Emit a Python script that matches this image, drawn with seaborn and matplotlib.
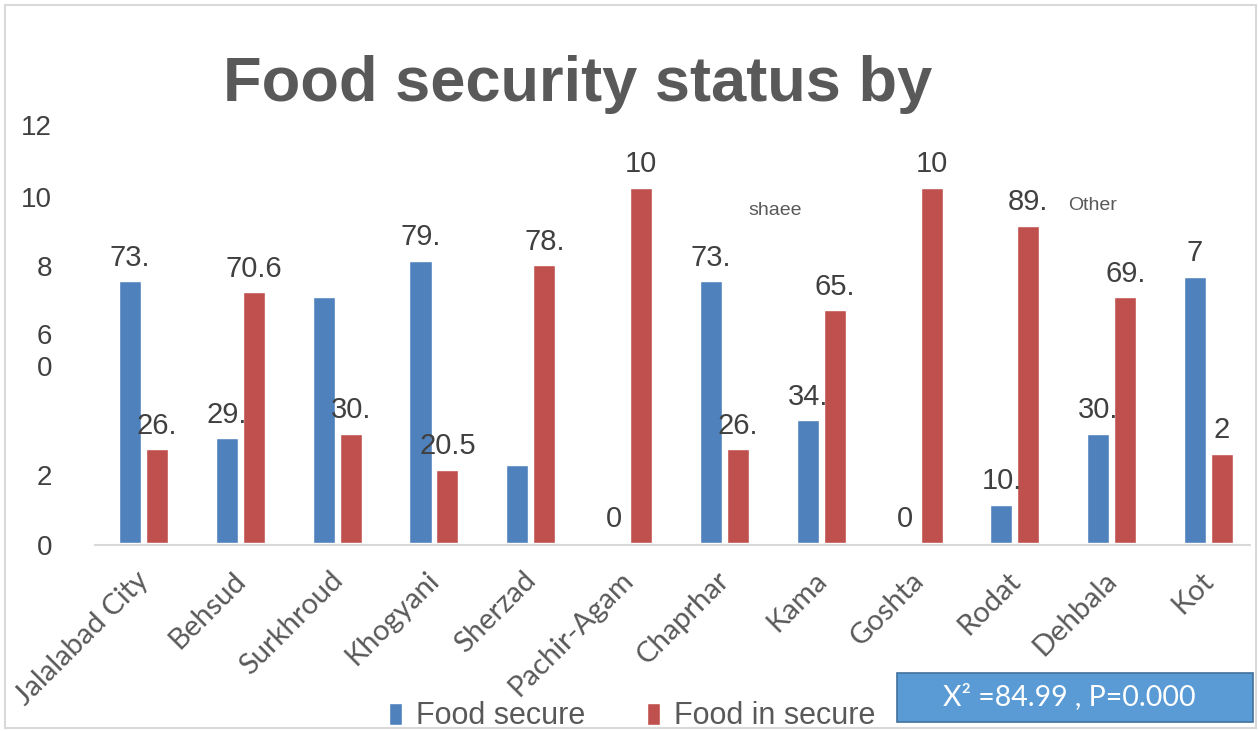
import matplotlib
matplotlib.use('Agg')
import matplotlib.pyplot as plt
import matplotlib.transforms as mtransforms
import seaborn as sns
import pandas as pd
from matplotlib.patches import Rectangle
from matplotlib.font_manager import fontManager

districts = ['Jalalabad City', 'Behsud', 'Surkhroud', 'Khogyani', 'Sherzad',
             'Pachir-Agam', 'Chaprhar', 'Kama', 'Goshta', 'Rodat', 'Dehbala', 'Kot']
food_secure = [73.7, 29.4, 69.2, 79.5, 21.8, 0.0, 73.7, 34.5, 0.0, 10.6, 30.8, 75.0]
food_insecure = [26.3, 70.6, 30.8, 20.5, 78.2, 100.0, 26.3, 65.5, 100.0, 89.4, 69.2, 25.0]
secure_labels = ['73.', '29.', '', '79.', '', '0', '73.', '34.', '0', '10.', '30.', '7']
insecure_labels = ['26.', '70.6', '30.', '20.5', '78.', '10', '26.', '65.', '10', '89.', '69.', '2']
ytick_values = [117.6, 97.5, 77.9, 58.8, 49.9, 19.0, -0.6]
ytick_text = ['12', '10', '8', '6', '0', '2', '0']
series_names = ['Food secure', 'Food in secure']
title_text = 'Food security status by'
stat_text = 'X\u00b2 =84.99 , P=0.000'

sns.set_theme(style='white')
plt.rcParams['font.family'] = ['Liberation Sans', 'DejaVu Sans']
avail = {f.name for f in fontManager.ttflist}
narrow = 'Liberation Sans Narrow' if 'Liberation Sans Narrow' in avail else 'Liberation Sans'

df = pd.DataFrame({
    'District': districts * 2,
    'Percent': food_secure + food_insecure,
    'Status': [series_names[0]] * len(districts) + [series_names[1]] * len(districts),
})

fig = plt.figure(figsize=(12.59, 7.31), dpi=100)
ax = fig.add_axes([0.0755, 0.2545, 0.9175, 0.5855])
sns.barplot(data=df, x='District', y='Percent', hue='Status', hue_order=series_names,
            palette={series_names[0]: '#4F81BD', series_names[1]: '#C0504D'},
            width=0.557, gap=0.18, saturation=1, errorbar=None, ax=ax)

for cont, labs in zip(ax.containers, [secure_labels, insecure_labels]):
    ax.bar_label(cont, labels=labs, padding=7, fontsize=21, color='#404040')

ax.set_ylim(0, 120)
ax.set_xlim(-0.5, 11.43)
ax.set_xlabel('')
ax.set_ylabel('')
for s in ['left', 'right', 'top']:
    ax.spines[s].set_visible(False)
ax.spines['bottom'].set_color('#D9D9D9')
ax.spines['bottom'].set_linewidth(1.5)

ax.set_yticks(ytick_values)
ax.set_yticklabels(ytick_text, fontsize=20, color='#404040')
ax.tick_params(axis='y', length=0, pad=31)
ax.set_xticks(range(len(districts)))
ax.set_xticklabels(districts, rotation=45, ha='right', rotation_mode='anchor',
                   fontsize=21, color='#595959', family=['Lato', 'DejaVu Sans'])
ax.tick_params(axis='x', length=0, pad=16)
shift = mtransforms.ScaledTranslation(-8 / 100, 0, fig.dpi_scale_trans)
for lab in ax.get_xticklabels():
    lab.set_transform(lab.get_transform() + shift)

handles, labels = ax.get_legend_handles_labels()
ax.get_legend().remove()
fig.legend(handles, labels, loc='center', bbox_to_anchor=(0.502, 0.02), ncol=2,
           frameon=False, fontsize=22, handlelength=0.45, handleheight=0.75,
           handletextpad=0.45, columnspacing=2.0, labelcolor='#595959')

fig.text(0.459, 0.862, title_text, ha='center', va='baseline', fontsize=45.5,
         fontweight='bold', color='#595959', family=[narrow, 'DejaVu Sans'])
fig.text(775 / 1259, 1 - 210 / 731, 'shaee', ha='center', va='center', fontsize=14, color='#595959')
fig.text(1093 / 1259, 1 - 205 / 731, 'Other', ha='center', va='center', fontsize=14, color='#595959')

fig.patches.append(Rectangle((897 / 1259, 1 - 722 / 731), 356 / 1259, 49 / 731,
                             transform=fig.transFigure, facecolor='#5B9BD5',
                             edgecolor='#41719C', linewidth=1.2, zorder=5))
fig.text(1069 / 1259, 1 - 697 / 731, stat_text, ha='center', va='center', fontsize=20.5,
         color='white', family=['Lato', 'DejaVu Sans'], zorder=6)

fig.patches.append(Rectangle((5 / 1259, 3 / 731), 1251 / 1259, 723 / 731,
                             transform=fig.transFigure, facecolor='none',
                             edgecolor='#D9D9D9', linewidth=1.5, zorder=0))

fig.savefig('out.png', dpi=100)
